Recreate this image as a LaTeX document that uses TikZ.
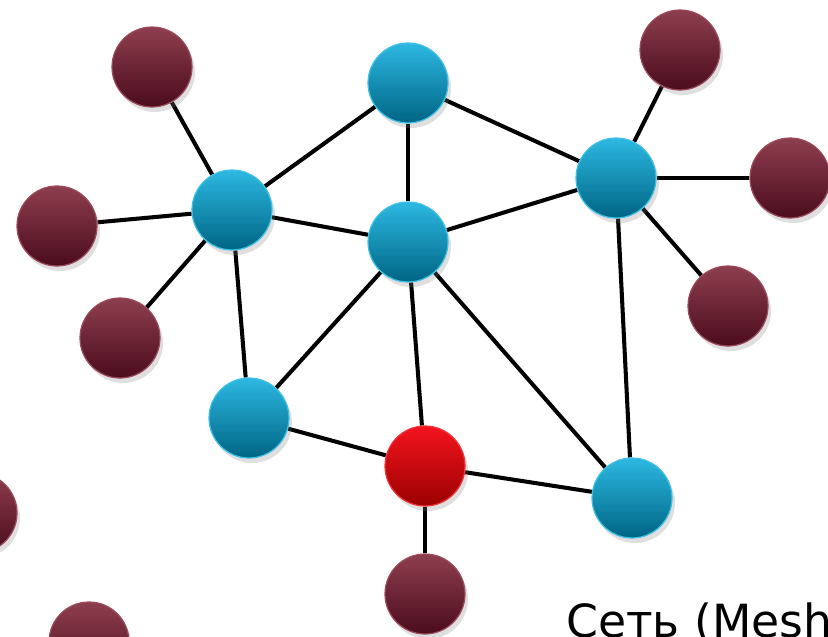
\documentclass[tikz,border=0pt]{standalone}
\usepackage{fontspec}
\setmainfont{DejaVu Sans}
\usetikzlibrary{shadows,backgrounds}

\definecolor{hubtop}{HTML}{2DB8E2}
\definecolor{hubbottom}{HTML}{006584}
\definecolor{hubedge}{HTML}{3FC0E6}
\definecolor{leaftop}{HTML}{8E3E4E}
\definecolor{leafbottom}{HTML}{4A0C1C}
\definecolor{leafedge}{HTML}{9A4A5A}
\definecolor{roottop}{HTML}{F4141E}
\definecolor{rootbottom}{HTML}{9A0000}
\definecolor{rootedge}{HTML}{F0343C}

\begin{document}
\begin{tikzpicture}[x=0.02cm, y=-0.02cm,
		dot/.style={circle, minimum size=1.6cm, inner sep=0pt, line width=0.7pt,
			drop shadow={opacity=0.25, shadow xshift=0.06cm, shadow yshift=-0.1cm}},
		hub/.style={dot, draw=hubedge, top color=hubtop, bottom color=hubbottom},
		leaf/.style={dot, draw=leafedge, top color=leaftop, bottom color=leafbottom},
		root/.style={dot, draw=rootedge, top color=roottop, bottom color=rootbottom},
		link/.style={line width=2.3pt, black}
	]
	\useasboundingbox (0,0) rectangle (828,636);
	\clip (0,0) rectangle (828,636);

	% узлы сети
	\node[hub] (top) at (408, 83) {};
	\node[hub] (left) at (232, 210) {};
	\node[hub] (mid) at (408, 242) {};
	\node[hub] (right) at (616, 178) {};
	\node[hub] (lowleft) at (249, 418) {};
	\node[hub] (lowright) at (632, 498) {};
	\node[root] (red) at (425, 466) {};

	% оконечные узлы
	\node[leaf] (l1) at (152, 67) {};
	\node[leaf] (l2) at (57, 226) {};
	\node[leaf] (l3) at (120, 338) {};
	\node[leaf] (r1) at (680, 50) {};
	\node[leaf] (r2) at (790, 178) {};
	\node[leaf] (r3) at (728, 306) {};
	\node[leaf] (b1) at (425, 594) {};
	\node[leaf] (far1) at (-23, 513) {};
	\node[leaf] (far2) at (89, 642) {};

	% связи
	\begin{scope}[on background layer]
		\draw[link] (left) -- (l1);
		\draw[link] (left) -- (l2);
		\draw[link] (left) -- (l3);
		\draw[link] (left) -- (top);
		\draw[link] (left) -- (mid);
		\draw[link] (left) -- (lowleft);
		\draw[link] (top) -- (mid);
		\draw[link] (top) -- (right);
		\draw[link] (mid) -- (right);
		\draw[link] (mid) -- (lowleft);
		\draw[link] (mid) -- (red);
		\draw[link] (mid) -- (lowright);
		\draw[link] (right) -- (r1);
		\draw[link] (right) -- (r2);
		\draw[link] (right) -- (r3);
		\draw[link] (right) -- (lowright);
		\draw[link] (red) -- (lowleft);
		\draw[link] (red) -- (lowright);
		\draw[link] (red) -- (b1);
	\end{scope}

	\node[anchor=base west, inner sep=0pt, font=\fontsize{26}{30}\selectfont] (title) at (566, 637) {Сеть (Mesh)};
\end{tikzpicture}
\end{document}
